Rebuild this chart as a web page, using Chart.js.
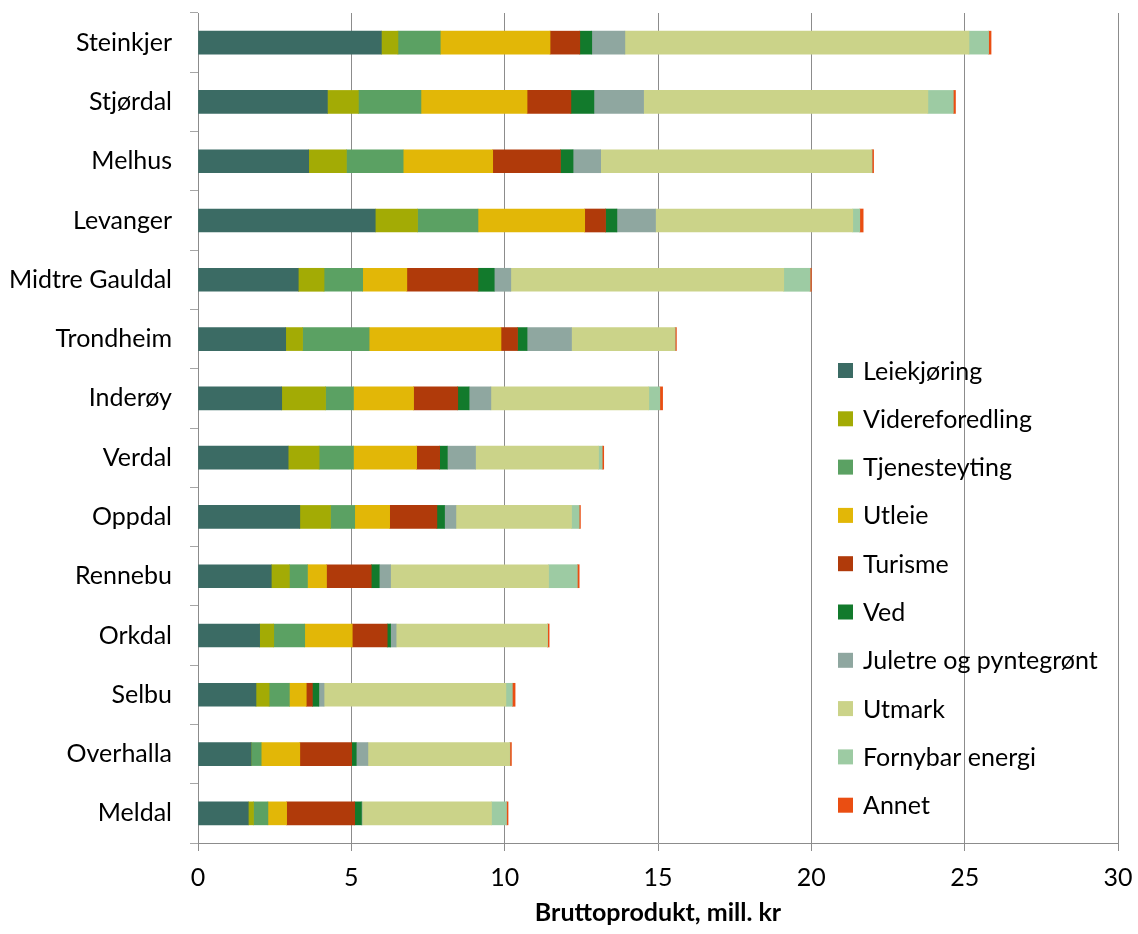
<!DOCTYPE html>
<html>
<head>
<meta charset="utf-8">
<script src="https://cdn.jsdelivr.net/npm/chart.js@4"></script>
<style>
  html, body { margin: 0; padding: 0; background: #fff; }
  #wrap { width: 1138px; height: 934px; position: relative; }
</style>
</head>
<body>
<div id="wrap"><canvas id="c"></canvas></div>
<script>
// kommuner, sortert etter total
const kommuner = ['Steinkjer', 'Stjørdal', 'Melhus', 'Levanger', 'Midtre Gauldal', 'Trondheim', 'Inderøy',
  'Verdal', 'Oppdal', 'Rennebu', 'Orkdal', 'Selbu', 'Overhalla', 'Meldal'];

// mill. kr per næring
const leiekjoring     = [5.98, 4.22, 3.61, 5.78, 3.27, 2.86, 2.73, 2.94, 3.32, 2.39, 2.01, 1.89, 1.73, 1.64];
const videreforedling = [0.54, 1.01, 1.23, 1.38, 0.84, 0.55, 1.43, 1.01, 1.00, 0.59, 0.46, 0.43, 0.00, 0.17];
const tjenesteyting   = [1.38, 2.04, 1.85, 1.97, 1.26, 2.17, 0.91, 1.12, 0.79, 0.59, 1.01, 0.66, 0.33, 0.47];
const utleie          = [3.58, 3.46, 2.92, 3.48, 1.44, 4.30, 1.96, 2.06, 1.14, 0.62, 1.55, 0.55, 1.26, 0.61];
const turisme         = [0.97, 1.43, 2.21, 0.68, 2.32, 0.54, 1.44, 0.75, 1.54, 1.46, 1.14, 0.20, 1.69, 2.22];
const ved             = [0.39, 0.75, 0.41, 0.37, 0.53, 0.31, 0.37, 0.25, 0.25, 0.26, 0.11, 0.21, 0.15, 0.22];
const juletre         = [1.08, 1.62, 0.90, 1.26, 0.54, 1.45, 0.71, 0.92, 0.37, 0.37, 0.18, 0.17, 0.38, 0.02];
const utmark          = [11.22, 9.27, 8.83, 6.43, 8.90, 3.36, 5.15, 4.01, 3.77, 5.15, 4.93, 5.93, 4.62, 4.22];
const fornybar        = [0.64, 0.83, 0.02, 0.23, 0.86, 0.02, 0.36, 0.12, 0.25, 0.94, 0.01, 0.21, 0.01, 0.49];
const annet           = [0.08, 0.07, 0.05, 0.11, 0.04, 0.04, 0.09, 0.05, 0.04, 0.06, 0.05, 0.09, 0.05, 0.05];

const xTicks = [0, 5, 10, 15, 20, 25, 30];

const serier = [
  ['Leiekjøring', leiekjoring, '#3b6b64'],
  ['Videreforedling', videreforedling, '#a3ab05'],
  ['Tjenesteyting', tjenesteyting, '#5ba163'],
  ['Utleie', utleie, '#e2b707'],
  ['Turisme', turisme, '#b03a0a'],
  ['Ved', ved, '#127a2c'],
  ['Juletre og pyntegrønt', juletre, '#8fa7a0'],
  ['Utmark', utmark, '#cbd389'],
  ['Fornybar energi', fornybar, '#9dcba3'],
  ['Annet', annet, '#ea4e12']
];

const FONT = 'Lato, "Open Sans", sans-serif';

// legend inne i plottet, til høyre
const legendPlugin = {
  id: 'innerLegend',
  afterDatasetsDraw(chart) {
    const ctx = chart.ctx;
    ctx.save();
    ctx.font = '25px ' + FONT;
    ctx.textBaseline = 'middle';
    ctx.textAlign = 'left';
    chart.data.datasets.forEach((ds, i) => {
      const y = 370.5 + i * 48.3;
      ctx.fillStyle = ds.backgroundColor;
      ctx.fillRect(838, y - 7.5, 15, 15);
      ctx.fillStyle = '#000';
      ctx.fillText(ds.label, 863, y + 1);
    });
    ctx.restore();
  }
};

new Chart(document.getElementById('c'), {
  type: 'bar',
  data: {
    labels: kommuner,
    datasets: serier.map(([label, data, color]) => ({
      label, data,
      backgroundColor: color,
      borderWidth: 0,
      barThickness: 23
    }))
  },
  options: {
    indexAxis: 'y',
    responsive: true,
    maintainAspectRatio: false,
    animation: false,
    layout: { padding: { top: 13, right: 20, left: 0, bottom: 0 } },
    plugins: {
      legend: { display: false },
      tooltip: { enabled: false }
    },
    scales: {
      x: {
        stacked: true,
        min: 0, max: 30,
        afterBuildTicks(scale) { scale.ticks = xTicks.map(v => ({ value: v })); },
        afterFit(scale) {
          scale.height = 91;
          scale.paddingLeft = 0;
          scale.paddingRight = 0;
        },
        grid: { color: '#8c8c8c', lineWidth: 1, tickLength: 8, drawTicks: true },
        border: { color: '#8c8c8c', width: 1 },
        ticks: { color: '#000', padding: 12, font: { family: FONT, size: 25 }, maxRotation: 0 },
        title: {
          display: true,
          text: 'Bruttoprodukt, mill. kr',
          color: '#000',
          font: { family: FONT, size: 25, weight: 'bold' },
          padding: { top: 2, bottom: 6 }
        }
      },
      y: {
        stacked: true,
        afterFit(scale) {
          scale.width = 198;
          scale.paddingTop = 0;
          scale.paddingBottom = 0;
        },
        grid: { drawOnChartArea: false, offset: true, tickLength: 8, color: '#a6a6a6' },
        border: { color: '#8c8c8c', width: 1 },
        ticks: { color: '#000', padding: 18, font: { family: FONT, size: 25 } }
      }
    }
  },
  plugins: [legendPlugin]
});
</script>
</body>
</html>
